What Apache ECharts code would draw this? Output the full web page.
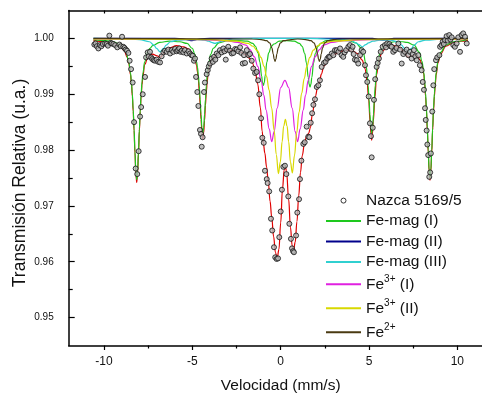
<!DOCTYPE html>
<html>
<head>
<meta charset="utf-8">
<script src="https://cdn.jsdelivr.net/npm/echarts@6/dist/echarts.min.js"></script>
<style>
  html, body { margin: 0; padding: 0; background: #fff; }
  #chart { width: 482px; height: 394px; }
</style>
</head>
<body>
<div id="chart"></div>
<script>
// tick values
const xMajorTicks = [-10, -5, 0, 5, 10];
const xMinorTicks = [-7.5, -2.5, 2.5, 7.5];
const yMajorTicks = [0.95, 0.96, 0.97, 0.98, 0.99, 1.00];
const yMinorTicks = [0.955, 0.965, 0.975, 0.985, 0.995];

// measured spectrum [velocity, transmission]
const nazca = [
  [-10.55,0.9989],[-10.48,0.9991],[-10.41,0.9986],[-10.32,0.9982],[-10.23,0.9988],[-10.15,0.9986],[-10.07,0.9990],
  [-9.94,0.9991],[-9.85,0.9990],[-9.78,0.9987],[-9.70,1.0005],[-9.62,0.9992],[-9.56,0.9991],[-9.47,0.9990],
  [-9.37,0.9988],[-9.25,0.9984],[-9.13,0.9989],[-9.05,0.9986],[-8.98,1.0003],[-8.91,0.9985],[-8.84,0.9983],
  [-8.77,0.9980],[-8.70,0.9978],[-8.62,0.9974],[-8.55,0.9960],[-8.47,0.9945],[-8.38,0.9921],[-8.30,0.9850],
  [-8.21,0.9767],[-8.12,0.9757],[-8.04,0.9798],[-7.96,0.9860],[-7.90,0.9877],[-7.81,0.9900],[-7.68,0.9931],
  [-7.62,0.9966],[-7.53,0.9975],[-7.47,0.9968],[-7.40,0.9976],[-7.33,0.9966],[-7.27,0.9963],[-7.19,0.9961],
  [-7.11,0.9960],[-7.02,0.9962],[-6.93,0.9958],[-6.83,0.9957],[-6.74,0.9968],[-6.64,0.9975],[-6.55,0.9978],
  [-6.45,0.9976],[-6.36,0.9980],[-6.26,0.9973],[-6.17,0.9979],[-6.08,0.9976],[-5.98,0.9981],[-5.89,0.9977],
  [-5.81,0.9979],[-5.74,0.9982],[-5.67,0.9976],[-5.60,0.9978],[-5.51,0.9975],[-5.42,0.9979],[-5.32,0.9973],
  [-5.22,0.9977],[-5.13,0.9973],[-5.05,0.9970],[-4.98,0.9969],[-4.91,0.9960],[-4.85,0.9964],[-4.79,0.9931],
  [-4.72,0.9904],[-4.66,0.9879],[-4.57,0.9836],[-4.51,0.9829],[-4.47,0.9806],[-4.42,0.9823],[-4.34,0.9904],
  [-4.29,0.9921],[-4.19,0.9936],[-4.13,0.9943],[-4.07,0.9950],[-4.00,0.9955],[-3.91,0.9964],[-3.84,0.9958],
  [-3.77,0.9967],[-3.70,0.9962],[-3.62,0.9973],[-3.53,0.9970],[-3.44,0.9979],[-3.34,0.9975],[-3.25,0.9982],
  [-3.18,0.9977],[-3.11,0.9962],[-3.04,0.9980],[-2.97,0.9985],[-2.87,0.9978],[-2.77,0.9973],[-2.68,0.9974],
  [-2.58,0.9981],[-2.49,0.9980],[-2.40,0.9977],[-2.30,0.9984],[-2.23,0.9974],[-2.15,0.9955],[-2.08,0.9970],
  [-2.02,0.9956],[-1.92,0.9979],[-1.83,0.9970],[-1.74,0.9972],[-1.64,0.9960],[-1.55,0.9946],[-1.45,0.9938],
  [-1.36,0.9940],[-1.28,0.9925],[-1.21,0.9900],[-1.11,0.9857],[-1.04,0.9822],[-0.96,0.9813],[-0.89,0.9763],
  [-0.79,0.9748],[-0.74,0.9741],[-0.65,0.9726],[-0.55,0.9677],[-0.48,0.9656],[-0.38,0.9626],[-0.31,0.9608],
  [-0.23,0.9605],[-0.15,0.9606],[-0.08,0.9644],[0.00,0.9690],[0.07,0.9729],[0.15,0.9770],[0.24,0.9772],
  [0.32,0.9757],[0.43,0.9717],[0.49,0.9668],[0.58,0.9641],[0.64,0.9624],[0.70,0.9619],[0.75,0.9617],
  [0.87,0.9647],[0.94,0.9688],[1.04,0.9712],[1.09,0.9748],[1.17,0.9781],[1.28,0.9811],[1.36,0.9814],
  [1.47,0.9842],[1.56,0.9824],[1.62,0.9823],[1.70,0.9849],[1.78,0.9866],[1.85,0.9881],[1.94,0.9891],
  [2.04,0.9913],[2.13,0.9916],[2.22,0.9925],[2.32,0.9949],[2.45,0.9956],[2.54,0.9958],[2.64,0.9964],
  [2.72,0.9967],[2.79,0.9967],[2.89,0.9973],[2.98,0.9970],[3.07,0.9979],[3.17,0.9979],[3.27,0.9976],
  [3.36,0.9982],[3.45,0.9970],[3.54,0.9967],[3.62,0.9975],[3.70,0.9979],[3.83,0.9985],[3.92,0.9988],
  [4.00,0.9980],[4.07,0.9985],[4.13,0.9972],[4.20,0.9962],[4.30,0.9961],[4.39,0.9955],[4.49,0.9970],
  [4.58,0.9979],[4.67,0.9976],[4.77,0.9952],[4.83,0.9934],[4.90,0.9922],[4.98,0.9896],[5.05,0.9848],
  [5.11,0.9825],[5.15,0.9787],[5.21,0.9840],[5.28,0.9890],[5.35,0.9927],[5.43,0.9949],[5.49,0.9956],
  [5.56,0.9964],[5.66,0.9976],[5.77,0.9985],[5.90,0.9988],[5.96,0.9984],[6.03,0.9991],[6.15,0.9990],
  [6.21,0.9986],[6.28,0.9985],[6.37,0.9976],[6.47,0.9979],[6.56,0.9983],[6.66,0.9991],[6.76,0.9980],
  [6.85,0.9955],[6.94,0.9972],[7.03,0.9976],[7.13,0.9980],[7.22,0.9970],[7.32,0.9976],[7.41,0.9964],
  [7.47,0.9972],[7.54,0.9979],[7.62,0.9968],[7.70,0.9961],[7.79,0.9970],[7.88,0.9952],[7.98,0.9943],
  [8.04,0.9922],[8.11,0.9908],[8.17,0.9875],[8.21,0.9854],[8.26,0.9835],[8.30,0.9810],[8.35,0.9791],
  [8.41,0.9752],[8.46,0.9760],[8.50,0.9794],[8.58,0.9869],[8.64,0.9916],[8.69,0.9945],[8.79,0.9961],
  [8.86,0.9966],[8.98,0.9970],[9.02,0.9985],[9.10,0.9988],[9.17,0.9994],[9.23,0.9990],[9.30,0.9997],
  [9.39,1.0004],[9.46,0.9996],[9.54,1.0006],[9.61,0.9998],[9.68,1.0002],[9.77,0.9988],[9.86,0.9985],
  [9.96,0.9991],[10.05,1.0002],[10.15,0.9976],[10.24,1.0006],[10.33,1.0009],[10.43,1.0003],[10.53,0.9991]
];

// total fit
const fitTotal = [
  [-10.6,0.9996],[-10.0,0.9994],[-9.5,0.9991],[-9.1,0.9986],[-8.85,0.9978],[-8.7,0.9967],[-8.6,0.9955],
  [-8.5,0.9935],[-8.45,0.9919],[-8.4,0.9897],[-8.35,0.9870],[-8.3,0.9835],[-8.25,0.9795],[-8.2,0.9759],
  [-8.15,0.9742],[-8.1,0.9759],[-8.05,0.9794],[-8.0,0.9834],[-7.95,0.9869],[-7.9,0.9896],[-7.85,0.9917],
  [-7.8,0.9932],[-7.7,0.9953],[-7.5,0.9968],[-7.25,0.9972],[-7.0,0.9969],[-6.83,0.9966],[-6.6,0.9974],
  [-6.3,0.9983],[-5.9,0.9987],[-5.5,0.9985],[-5.2,0.9981],[-5.0,0.9972],[-4.85,0.9962],[-4.76,0.9951],
  [-4.71,0.9940],[-4.66,0.9925],[-4.61,0.9906],[-4.56,0.9882],[-4.51,0.9855],[-4.46,0.9832],[-4.41,0.9820],
  [-4.36,0.9831],[-4.31,0.9853],[-4.26,0.9880],[-4.21,0.9904],[-4.16,0.9922],[-4.11,0.9937],[-4.06,0.9948],
  [-3.97,0.9958],[-3.85,0.9965],[-3.72,0.9969],[-3.4,0.9976],[-3.0,0.9979],[-2.6,0.9978],[-2.3,0.9976],
  [-2.0,0.9971],[-1.8,0.9965],[-1.6,0.9956],[-1.45,0.9942],[-1.3,0.9918],[-1.15,0.9876],[-1.05,0.9834],
  [-0.98,0.9812],[-0.9,0.9795],[-0.8,0.9770],[-0.7,0.9742],[-0.6,0.9708],[-0.51,0.9680],[-0.4,0.9645],
  [-0.3,0.9617],[-0.2,0.9606],[-0.1,0.9622],[0.0,0.9670],[0.1,0.9730],[0.2,0.9765],[0.26,0.9771],
  [0.33,0.9762],[0.45,0.9712],[0.55,0.9662],[0.65,0.9629],[0.73,0.9621],[0.82,0.9635],[0.92,0.9672],
  [1.02,0.9718],[1.12,0.9760],[1.22,0.9790],[1.35,0.9813],[1.47,0.9825],[1.58,0.9830],[1.68,0.9840],
  [1.8,0.9866],[1.95,0.9895],[2.1,0.9913],[2.2,0.9923],[2.3,0.9936],[2.45,0.9951],[2.7,0.9963],
  [3.0,0.9971],[3.4,0.9977],[3.8,0.9979],[4.1,0.9977],[4.35,0.9973],[4.62,0.9961],[4.72,0.9952],
  [4.78,0.9945],[4.88,0.9926],[4.98,0.9891],[5.06,0.9850],[5.11,0.9829],[5.15,0.9818],[5.19,0.9829],
  [5.24,0.9851],[5.33,0.9894],[5.43,0.9935],[5.55,0.9960],[5.75,0.9977],[6.05,0.9986],[6.4,0.9987],
  [6.7,0.9984],[6.95,0.9977],[7.2,0.9967],[7.45,0.9969],[7.7,0.9970],[7.88,0.9962],[8.0,0.9953],
  [8.1,0.9936],[8.15,0.9918],[8.2,0.9896],[8.25,0.9870],[8.3,0.9835],[8.35,0.9796],[8.4,0.9762],
  [8.45,0.9746],[8.5,0.9762],[8.55,0.9796],[8.6,0.9835],[8.65,0.9870],[8.7,0.9896],[8.75,0.9918],
  [8.8,0.9935],[8.9,0.9956],[9.05,0.9972],[9.35,0.9986],[9.75,0.9992],[10.2,0.9995],[10.6,0.9996]
];

// subspectra
const femagI = [
  [-10.6,0.9998],[-9.9,0.9996],[-9.45,0.9994],[-9.1,0.9989],[-8.9,0.9983],[-8.75,0.9975],[-8.6,0.9958],
  [-8.5,0.9938],[-8.45,0.9922],[-8.4,0.9901],[-8.35,0.9873],[-8.3,0.9838],[-8.25,0.9798],[-8.2,0.9762],
  [-8.15,0.9747],[-8.1,0.9762],[-8.05,0.9798],[-8.0,0.9838],[-7.95,0.9873],[-7.9,0.9901],[-7.85,0.9922],
  [-7.8,0.9938],[-7.7,0.9958],[-7.55,0.9975],[-7.4,0.9982],[-7.25,0.9987],[-6.85,0.9993],[-6.3,0.9995],
  [-5.7,0.9994],[-5.3,0.9991],[-5.0,0.9982],[-4.85,0.9971],[-4.76,0.9958],[-4.71,0.9948],[-4.66,0.9934],
  [-4.61,0.9915],[-4.56,0.9891],[-4.51,0.9864],[-4.46,0.9840],[-4.41,0.9830],[-4.36,0.9840],[-4.31,0.9864],
  [-4.26,0.9891],[-4.21,0.9915],[-4.16,0.9934],[-4.11,0.9948],[-4.06,0.9958],[-3.97,0.9971],[-3.82,0.9982],
  [-3.5,0.9992],[-3.0,0.9996],[-2.4,0.9996],[-1.9,0.9995],[-1.58,0.9991],[-1.43,0.9986],[-1.28,0.9974],
  [-1.18,0.9958],[-1.08,0.9933],[-1.03,0.9921],[-0.98,0.9916],[-0.93,0.9921],[-0.88,0.9933],[-0.78,0.9958],
  [-0.68,0.9974],[-0.53,0.9986],[-0.38,0.9990],[-0.08,0.9995],[0.34,0.9996],[0.76,0.9995],[1.06,0.9991],
  [1.21,0.9986],[1.36,0.9973],[1.46,0.9956],[1.56,0.9930],[1.61,0.9918],[1.66,0.9913],[1.71,0.9918],
  [1.76,0.9930],[1.86,0.9956],[1.96,0.9973],[2.11,0.9986],[2.26,0.9991],[2.56,0.9996],[3.2,0.9997],
  [3.85,0.9996],[4.25,0.9992],[4.55,0.9983],[4.7,0.9972],[4.79,0.9958],[4.85,0.9948],[4.9,0.9934],
  [4.95,0.9915],[5.0,0.9891],[5.05,0.9864],[5.1,0.9840],[5.15,0.9830],[5.2,0.9840],[5.25,0.9864],
  [5.3,0.9891],[5.35,0.9915],[5.4,0.9934],[5.45,0.9948],[5.51,0.9958],[5.6,0.9972],[5.75,0.9983],
  [6.05,0.9992],[6.45,0.9994],[6.9,0.9994],[7.15,0.9993],[7.55,0.9988],[7.85,0.9975],[8.0,0.9959],
  [8.1,0.9939],[8.15,0.9923],[8.2,0.9902],[8.25,0.9875],[8.3,0.9840],[8.35,0.9800],[8.4,0.9765],
  [8.45,0.9750],[8.5,0.9765],[8.55,0.9800],[8.6,0.9840],[8.65,0.9875],[8.7,0.9902],[8.75,0.9923],
  [8.8,0.9939],[8.9,0.9959],[9.05,0.9975],[9.35,0.9988],[9.75,0.9994],[10.6,0.9998]
];
const femagII = [
  [-10.6,1.0000],[-6.0,1.0000],[-5.5,0.9999],[-5.2,0.9997],[-5.05,0.9996],[-4.9,0.9997],[-4.6,0.9999],
  [-4.0,1.0000],[5.2,1.0000],[5.6,0.9998],[5.8,0.9997],[6.0,0.9998],[6.4,1.0000],[10.6,1.0000]
];
const femagIII = [
  [-10.6,1.0000],[-8.9,0.9999],[-8.0,0.9998],[-7.43,0.9994],[-7.18,0.9988],[-7.03,0.9982],[-6.83,0.9976],
  [-6.63,0.9982],[-6.48,0.9988],[-6.23,0.9994],[-5.83,0.9997],[-5.2,0.9998],[-4.72,0.9998],[-4.32,0.9997],
  [-4.07,0.9995],[-3.92,0.9993],[-3.72,0.9991],[-3.52,0.9993],[-3.37,0.9995],[-3.12,0.9997],[-2.7,0.9999],
  [-1.5,1.0000],[1.5,1.0000],[2.6,0.9999],[3.6,0.9998],[4.0,0.9996],[4.27,0.9992],[4.42,0.9989],
  [4.62,0.9985],[4.82,0.9989],[4.97,0.9992],[5.22,0.9995],[5.62,0.9997],[6.2,0.9997],[6.6,0.9994],
  [6.85,0.9988],[7.0,0.9982],[7.2,0.9976],[7.4,0.9982],[7.55,0.9988],[7.8,0.9994],[8.2,0.9997],
  [9.2,0.9999],[10.6,1.0000]
];
const fe3I = [
  [-10.6,0.9999],[-4.5,0.9998],[-3.15,0.9996],[-2.45,0.9993],[-1.96,0.9988],[-1.75,0.9980],[-1.49,0.9967],
  [-1.3,0.9950],[-1.11,0.9925],[-0.95,0.9898],[-0.83,0.9872],[-0.65,0.9838],[-0.51,0.9815],[-0.37,0.9833],
  [-0.2,0.9875],[0.0,0.9912],[0.24,0.9925],[0.45,0.9912],[0.65,0.9875],[0.82,0.9833],[0.96,0.9815],
  [1.1,0.9838],[1.28,0.9872],[1.4,0.9898],[1.56,0.9925],[1.75,0.9950],[1.94,0.9967],[2.2,0.9980],
  [2.41,0.9988],[2.9,0.9993],[3.6,0.9996],[5.0,0.9998],[10.6,0.9999]
];
const fe3II = [
  [-10.6,0.9999],[-4.0,0.9998],[-2.5,0.9995],[-1.85,0.9991],[-1.57,0.9986],[-1.32,0.9978],[-1.12,0.9966],
  [-0.94,0.9950],[-0.8,0.9932],[-0.66,0.9908],[-0.51,0.9875],[-0.37,0.9835],[-0.25,0.9792],[-0.13,0.9758],
  [-0.02,0.9779],[0.08,0.9815],[0.17,0.9843],[0.265,0.9855],[0.36,0.9843],[0.45,0.9815],[0.55,0.9779],
  [0.66,0.9759],[0.78,0.9790],[0.9,0.9830],[1.04,0.9868],[1.19,0.9902],[1.33,0.9928],[1.47,0.9949],
  [1.65,0.9966],[1.85,0.9979],[2.1,0.9987],[2.32,0.9992],[3.0,0.9995],[4.5,0.9998],[10.6,0.9999]
];
const fe2 = [
  [-10.6,1.0000],[-1.6,0.9999],[-1.1,0.9998],[-0.8,0.9996],[-0.62,0.9992],[-0.5,0.9983],[-0.42,0.9972],
  [-0.37,0.9963],[-0.32,0.9959],[-0.27,0.9963],[-0.22,0.9972],[-0.14,0.9983],[-0.02,0.9992],[0.16,0.9996],
  [0.6,0.9998],[0.97,0.9999],[1.41,0.9998],[1.71,0.9996],[1.89,0.9992],[2.01,0.9983],[2.09,0.9972],
  [2.14,0.9963],[2.19,0.9959],[2.24,0.9963],[2.29,0.9972],[2.37,0.9983],[2.49,0.9992],[2.67,0.9996],
  [2.97,0.9998],[3.5,0.9999],[10.6,1.0000]
];

const font = 'Arial, "Liberation Sans", sans-serif';

const chart = echarts.init(document.getElementById('chart'), null, { renderer: 'canvas' });

// line series helper
const fitLine = (name, data, color, z) => ({
  name: name,
  type: 'line',
  data: data,
  symbol: 'none',
  showSymbol: false,
  smooth: 0.4,
  smoothMonotone: 'x',
  z: z,
  lineStyle: { color: color, width: 1.2 },
  itemStyle: { color: color },
  emphasis: { disabled: true }
});

const option = {
  animation: false,
  backgroundColor: '#fff',
  grid: {
    left: 68.7,
    right: -10.7,
    top: 10.5,
    bottom: 48.5,
    containLabel: false,
    outerBoundsMode: 'none'
  },
  legend: {
    orient: 'vertical',
    left: 320,
    top: 187.6,
    itemWidth: 35,
    itemHeight: 5,
    itemGap: 4.5,
    // hide the marker dot drawn on line icons
    itemStyle: { opacity: 0 },
    data: [
      { name: 'Nazca 5169/5', icon: 'circle', itemStyle: { opacity: 1, color: '#fff', borderColor: '#333', borderWidth: 1 } },
      'Fe-mag (I)', 'Fe-mag (II)', 'Fe-mag (III)', 'Fe3+ (I)', 'Fe3+ (II)', 'Fe2+'
    ],
    formatter: (name) => {
      const m = name.match(/^Fe(\d\+)(.*)$/);
      if (m) return '{m|Fe}{s|' + m[1] + '}' + (m[2] ? '{m|' + m[2] + '}' : '');
      return '{n|' + name + '}';
    },
    textStyle: {
      color: '#111',
      fontFamily: font,
      rich: {
        n: { fontSize: 15.5, fontFamily: font, color: '#111' },
        m: { fontSize: 15.5, fontFamily: font, color: '#111' },
        s: { fontSize: 10, lineHeight: 10, fontFamily: font, color: '#111', padding: [0, 0, 9.5, 0] }
      }
    }
  },
  xAxis: [
    {
      type: 'value',
      position: 'bottom',
      min: -12,
      max: 12,
      name: 'Velocidad (mm/s)',
      nameLocation: 'middle',
      nameGap: 32,
      nameMoveOverlap: false,
      nameTextStyle: { fontSize: 15.5, fontFamily: font, color: '#111' },
      axisLine: { show: true, onZero: false, lineStyle: { color: '#000', width: 1.5 } },
      axisTick: { show: true, inside: false, length: 4.5, customValues: xMajorTicks, lineStyle: { color: '#000', width: 1.2 } },
      axisLabel: { customValues: xMajorTicks, margin: 10, fontSize: 12, fontFamily: font, color: '#111' },
      splitLine: { show: false }
    },
    {
      type: 'value',
      position: 'bottom',
      min: -12,
      max: 12,
      axisLine: { show: false, onZero: false },
      axisTick: { show: true, inside: false, length: 3, customValues: xMinorTicks, lineStyle: { color: '#000', width: 1.2 } },
      axisLabel: { show: false },
      splitLine: { show: false }
    },
    {
      type: 'value',
      position: 'top',
      min: -12,
      max: 12,
      axisLine: { show: true, onZero: false, lineStyle: { color: '#000', width: 1.5 } },
      axisTick: { show: true, inside: true, length: 3, customValues: xMajorTicks.concat(xMinorTicks), lineStyle: { color: '#000', width: 1.2 } },
      axisLabel: { show: false },
      splitLine: { show: false }
    }
  ],
  yAxis: [
    {
      type: 'value',
      position: 'left',
      min: 0.945,
      max: 1.005,
      name: 'Transmisión Relativa (u.a.)',
      nameLocation: 'middle',
      nameGap: 40,
      nameMoveOverlap: false,
      nameTextStyle: { fontSize: 17.5, fontFamily: font, color: '#111', padding: [0, 10, 0, 0] },
      axisLine: { show: true, onZero: false, lineStyle: { color: '#000', width: 1.5 } },
      axisTick: { show: true, inside: true, length: 6, customValues: yMajorTicks, lineStyle: { color: '#000', width: 1.2 } },
      axisLabel: {
        customValues: yMajorTicks,
        margin: 15,
        fontSize: 10,
        fontFamily: font,
        color: '#111',
        formatter: (v) => v.toFixed(2)
      },
      splitLine: { show: false }
    },
    {
      type: 'value',
      position: 'left',
      min: 0.945,
      max: 1.005,
      axisLine: { show: false, onZero: false },
      axisTick: { show: true, inside: true, length: 4, customValues: yMinorTicks, lineStyle: { color: '#000', width: 1.2 } },
      axisLabel: { show: false },
      splitLine: { show: false }
    }
  ],
  series: [
    fitLine('Ajuste', fitTotal, '#e00000', 2),
    fitLine('Fe-mag (I)', femagI, '#1ec81e', 3),
    fitLine('Fe-mag (II)', femagII, '#00008b', 3),
    fitLine('Fe-mag (III)', femagIII, '#30d0d0', 3),
    fitLine('Fe3+ (I)', fe3I, '#e020e0', 3),
    fitLine('Fe3+ (II)', fe3II, '#d8d800', 3),
    fitLine('Fe2+', fe2, '#4a3a12', 4),
    {
      name: 'Nazca 5169/5',
      type: 'scatter',
      data: nazca,
      symbol: 'circle',
      symbolSize: 5,
      z: 5,
      itemStyle: { color: '#b4b4b4', borderColor: '#111', borderWidth: 1 },
      emphasis: { disabled: true }
    }
  ]
};

chart.setOption(option);
window.addEventListener('resize', chart.resize);
</script>
</body>
</html>
